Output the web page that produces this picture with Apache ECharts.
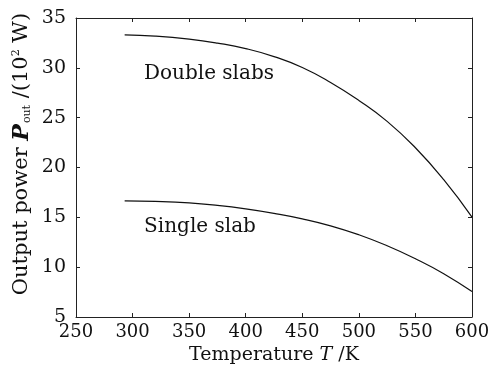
<!DOCTYPE html>
<html>
<head>
<meta charset="utf-8">
<script src="https://cdn.jsdelivr.net/npm/echarts@6/dist/echarts.min.js"></script>
<style>
  html, body { margin: 0; padding: 0; background: #fff; }
  #chart { width: 493px; height: 370px; }
</style>
</head>
<body>
<div id="chart"></div>
<script>
// Temperature samples (K)
const temperature = [293, 320, 350, 375, 400, 425, 450, 475, 500, 525, 550, 575, 600];
// Output power (10^2 W)
const doubleSlabs = [33.3, 33.18, 32.88, 32.48, 31.93, 31.13, 30.03, 28.53, 26.73, 24.63, 21.98, 18.78, 15.03];
const singleSlab = [16.65, 16.6, 16.45, 16.2, 15.85, 15.4, 14.85, 14.15, 13.25, 12.15, 10.85, 9.35, 7.55];

const xTicks = { min: 250, max: 600, interval: 50 };
const yTicks = { min: 5, max: 35, interval: 5 };

const FONT = 'DejaVu Serif';
const INK = '#111';
const chart = echarts.init(document.getElementById('chart'));

const pairs = (xs, ys) => xs.map((x, i) => [x, ys[i]]);

const axisCommon = {
  axisLine: { show: true, onZero: false, lineStyle: { color: '#222', width: 1 } },
  axisTick: { show: true, inside: true, length: 4, lineStyle: { color: '#222', width: 1 } },
  splitLine: { show: false }
};

chart.setOption({
  animation: false,
  backgroundColor: '#fff',
  grid: { left: 76, right: 21, top: 18, bottom: 53, show: false },
  xAxis: [
    Object.assign({
      type: 'value', position: 'bottom',
      min: xTicks.min, max: xTicks.max, interval: xTicks.interval,
      axisLabel: { color: INK, fontFamily: FONT, fontSize: 18, margin: 6 },
      name: '{n|Temperature }{i|T}{n| /K}',
      nameLocation: 'middle', nameGap: 28,
      nameTextStyle: {
        rich: {
          n: { fontFamily: FONT, fontSize: 19, color: INK },
          i: { fontFamily: FONT, fontSize: 19, fontStyle: 'italic', color: INK }
        }
      }
    }, axisCommon),
    Object.assign({
      type: 'value', position: 'top',
      min: xTicks.min, max: xTicks.max, interval: xTicks.interval,
      axisLabel: { show: false }
    }, axisCommon)
  ],
  yAxis: [
    Object.assign({
      type: 'value', position: 'left',
      min: yTicks.min, max: yTicks.max, interval: yTicks.interval,
      axisLabel: { color: INK, fontFamily: FONT, fontSize: 19, margin: 10 }
    }, axisCommon),
    Object.assign({
      type: 'value', position: 'right',
      min: yTicks.min, max: yTicks.max, interval: yTicks.interval,
      axisLabel: { show: false }
    }, axisCommon)
  ],
  series: [
    {
      name: 'Double slabs', type: 'line', smooth: true, showSymbol: false,
      data: pairs(temperature, doubleSlabs),
      lineStyle: { color: INK, width: 1.2 }
    },
    {
      name: 'Single slab', type: 'line', smooth: true, showSymbol: false,
      data: pairs(temperature, singleSlab),
      lineStyle: { color: INK, width: 1.2 }
    }
  ],
  graphic: [
    {
      // vertical axis title, rotated
      type: 'text', x: 22, y: 154, rotation: Math.PI / 2,
      style: {
        text: '{n|Output power }{i|P}{s|out}{n| /(10}{p|2}{n| W)}',
        align: 'center', verticalAlign: 'middle',
        rich: {
          n: { fontFamily: FONT, fontSize: 21, fill: INK },
          i: { fontFamily: FONT, fontSize: 22, fontStyle: 'italic', fontWeight: 'bold', fill: INK },
          s: { fontFamily: FONT, fontSize: 11, fill: INK, verticalAlign: 'bottom', padding: [11, 0, 0, 1] },
          p: { fontFamily: FONT, fontSize: 11, fill: INK, verticalAlign: 'top', padding: [0, 0, 10, 0] }
        }
      }
    },
    { type: 'text', x: 209, y: 74, style: { text: 'Double slabs', font: '20px "DejaVu Serif"', fill: INK, align: 'center', verticalAlign: 'middle' } },
    { type: 'text', x: 200, y: 227, style: { text: 'Single slab', font: '20px "DejaVu Serif"', fill: INK, align: 'center', verticalAlign: 'middle' } }
  ]
});
</script>
</body>
</html>
